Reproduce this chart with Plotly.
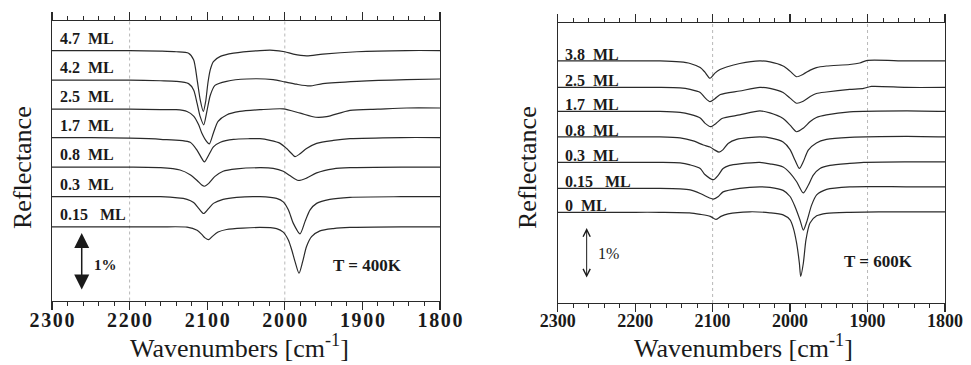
import plotly.graph_objects as go

# ---------------- data ----------------
TICKS = [2300, 2200, 2100, 2000, 1900, 1800]

# T = 400 K : coverage labels (top to bottom) and vertical offsets (%)
COV_400 = ["4.7", "4.2", "2.5", "1.7", "0.8", "0.3", "0.15"]
OFF_400 = [4.31, 3.80, 3.30, 2.81, 2.30, 1.79, 1.27]

W400_47 = [2300, 2250, 2200, 2160, 2140, 2124, 2117.5, 2113, 2109, 2105, 2102, 2099, 2096, 2092, 2083, 2066, 2032, 2015, 2000, 1989, 1972, 1951, 1907, 1843, 1800]
R400_47 = [0, 0, 0, -0.01, -0.02, -0.045, -0.16, -0.5, -0.85, -1.05, -0.88, -0.55, -0.33, -0.19, -0.1, -0.045, 0, 0.005, -0.02, -0.06, -0.09, -0.06, -0.02, 0, 0]

W400_42 = [2300, 2250, 2200, 2160, 2140, 2124, 2117.5, 2113, 2109, 2104.5, 2100.6, 2096, 2090, 2075, 2049, 2015, 2000, 1985, 1968, 1951, 1907, 1843, 1800]
R400_42 = [0, 0, 0, -0.01, -0.02, -0.06, -0.17, -0.4, -0.63, -0.77, -0.55, -0.26, -0.09, -0.02, 0.02, 0.01, -0.03, -0.07, -0.1, -0.06, -0.02, 0.01, 0.02]

W400_25 = [2300, 2250, 2200, 2160, 2140, 2126, 2117.5, 2111, 2107, 2100.6, 2097.3, 2092, 2086, 2075, 2058, 2032, 2002, 1980, 1960, 1946, 1916, 1880, 1843, 1800]
R400_25 = [0, 0, 0, -0.01, -0.01, -0.04, -0.12, -0.27, -0.41, -0.56, -0.6, -0.41, -0.21, -0.1, -0.04, -0.01, 0.005, -0.07, -0.14, -0.13, -0.02, 0, 0.02, 0.02]

W400_17 = [2300, 2250, 2200, 2160, 2122, 2113, 2107, 2103.6, 2098, 2092, 2083, 2066, 2045, 2032, 2019, 2006, 1997.6, 1991, 1986.8, 1980.4, 1972, 1959, 1937.5, 1916, 1850, 1800]
R400_17 = [0, 0, -0.01, -0.03, -0.08, -0.22, -0.36, -0.42, -0.3, -0.16, -0.08, -0.03, -0.02, -0.02, -0.05, -0.1, -0.19, -0.28, -0.33, -0.28, -0.19, -0.1, -0.05, -0.02, 0, 0]

W400_08 = [2300, 2250, 2200, 2160, 2135, 2122, 2113, 2107, 2103.6, 2098, 2090, 2079.5, 2062, 2032, 2015, 2002, 1993, 1982.6, 1972, 1959, 1937.5, 1916, 1850, 1800]
R400_08 = [0, 0, 0, -0.01, -0.05, -0.13, -0.23, -0.31, -0.33, -0.28, -0.16, -0.07, -0.03, -0.01, -0.02, -0.07, -0.15, -0.23, -0.19, -0.1, -0.03, -0.01, 0, 0]

W400_03 = [2300, 2250, 2200, 2160, 2126, 2117.5, 2111, 2104.6, 2098, 2092, 2079.5, 2062, 2032, 2010.6, 2002, 1995.3, 1989, 1980.4, 1974, 1967.6, 1959, 1942, 1916, 1850, 1800]
R400_03 = [0, 0, 0, 0, -0.045, -0.1, -0.2, -0.29, -0.2, -0.115, -0.045, -0.01, 0, -0.03, -0.09, -0.23, -0.46, -0.64, -0.43, -0.23, -0.115, -0.045, -0.01, 0, 0]

W400_015 = [2300, 2250, 2200, 2160, 2126, 2113, 2107, 2102.8, 2098, 2093, 2086, 2075, 2032, 2010.6, 2002, 1995.3, 1991, 1986.8, 1981.7, 1977, 1972, 1965.5, 1954.7, 1937.5, 1916, 1850, 1800]
R400_015 = [0, 0, 0, 0, -0.005, -0.06, -0.13, -0.19, -0.22, -0.16, -0.09, -0.045, -0.01, -0.03, -0.09, -0.23, -0.4, -0.6, -0.8, -0.6, -0.34, -0.17, -0.07, -0.03, -0.01, 0, 0]

# T = 600 K
COV_600 = ["3.8", "2.5", "1.7", "0.8", "0.3", "0.15", "0"]
OFF_600 = [4.75, 4.23, 3.76, 3.26, 2.76, 2.25, 1.78]

W600_38 = [2300, 2250, 2200, 2168, 2142, 2129, 2116, 2110, 2103.4, 2097, 2090.5, 2082, 2065, 2039, 2026, 2009, 2000, 1991.5, 1983, 1974, 1966, 1953, 1923, 1910, 1900, 1850, 1800]
R600_38 = [0, 0, 0, 0, -0.02, -0.05, -0.13, -0.22, -0.34, -0.24, -0.17, -0.12, -0.05, 0, -0.02, -0.1, -0.2, -0.31, -0.26, -0.18, -0.13, -0.1, -0.07, -0.04, 0.01, 0, 0]

W600_25 = [2300, 2250, 2200, 2168, 2142, 2129, 2116, 2110, 2103.4, 2097, 2090, 2065, 2039, 2026, 2009, 2000, 1991.5, 1983, 1974, 1966, 1953, 1923, 1905, 1895, 1850, 1800]
R600_25 = [0, 0, 0, 0, -0.01, -0.04, -0.1, -0.2, -0.28, -0.22, -0.14, -0.07, 0, -0.02, -0.1, -0.21, -0.31, -0.27, -0.18, -0.12, -0.09, -0.04, -0.02, 0.02, 0, 0]

W600_17 = [2300, 2250, 2200, 2168, 2142, 2129, 2116, 2110, 2102.7, 2095, 2088, 2065, 2039, 2026, 2009, 2000, 1991.5, 1983, 1974, 1966, 1953, 1923, 1850, 1800]
R600_17 = [0, 0, 0, 0, -0.02, -0.06, -0.13, -0.23, -0.30, -0.23, -0.14, -0.07, 0.01, -0.03, -0.14, -0.27, -0.40, -0.33, -0.2, -0.12, -0.07, -0.01, 0.01, 0]

W600_08 = [2300, 2250, 2200, 2168, 2142, 2125, 2112, 2103.4, 2097, 2091.7, 2086.5, 2080, 2069, 2039, 2026, 2009, 2000, 1993.6, 1988, 1983, 1976.5, 1966, 1953, 1923, 1850, 1800]
R600_08 = [0, 0, 0, 0, -0.02, -0.08, -0.16, -0.2, -0.26, -0.3, -0.25, -0.13, -0.05, 0, -0.02, -0.1, -0.25, -0.46, -0.62, -0.49, -0.26, -0.12, -0.05, -0.01, 0.01, 0]

W600_03 = [2300, 2250, 2200, 2168, 2142, 2129, 2116, 2110, 2099, 2092.6, 2086.5, 2078, 2065, 2039, 2026, 2009, 2000, 1991.5, 1983, 1976.5, 1970, 1961.4, 1948.5, 1923, 1905, 1850, 1800]
R600_03 = [0, 0, 0, 0, -0.01, -0.05, -0.12, -0.24, -0.34, -0.25, -0.12, -0.06, -0.03, 0, -0.03, -0.09, -0.21, -0.38, -0.6, -0.45, -0.25, -0.12, -0.06, -0.02, 0, 0.01, 0.01]

W600_015 = [2300, 2250, 2200, 2168, 2142, 2129, 2116, 2108, 2099, 2092.6, 2086.5, 2065, 2039, 2026, 2009, 2000, 1993.6, 1987.2, 1982.9, 1978.6, 1972.2, 1965.7, 1952.8, 1923, 1850, 1800]
R600_015 = [0, 0, 0, 0, -0.01, -0.03, -0.1, -0.16, -0.21, -0.16, -0.07, 0, 0.03, 0.02, -0.04, -0.16, -0.36, -0.62, -0.82, -0.66, -0.33, -0.13, -0.02, 0.03, 0.03, 0.03]

W600_0 = [2300, 2250, 2200, 2168, 2130, 2116, 2103, 2095.8, 2089.3, 2080, 2052, 2026, 2009, 2000, 1995.8, 1991.5, 1988, 1986.3, 1982.9, 1979.5, 1974.3, 1965.7, 1953, 1923, 1850, 1800]
R600_0 = [0, 0, 0, 0, -0.01, -0.04, -0.08, -0.14, -0.08, -0.03, 0.01, -0.01, -0.05, -0.15, -0.31, -0.61, -1.0, -1.26, -1.0, -0.54, -0.21, -0.07, -0.02, 0, 0.01, 0.01]

SPEC_400 = [(W400_47, R400_47), (W400_42, R400_42), (W400_25, R400_25), (W400_17, R400_17),
            (W400_08, R400_08), (W400_03, R400_03), (W400_015, R400_015)]
SPEC_600 = [(W600_38, R600_38), (W600_25, R600_25), (W600_17, R600_17), (W600_08, R600_08),
            (W600_03, R600_03), (W600_015, R600_015), (W600_0, R600_0)]

# ---------------- figure ----------------
SERIF = "Liberation Serif, Times New Roman, serif"
INK = "#1a1a1a"
LINE = "#2a2a2a"
FW, FH = 971, 365

fig = go.Figure()

for (w, r), off in zip(SPEC_400, OFF_400):
    fig.add_trace(go.Scatter(x=w, y=[off + v for v in r], mode="lines",
                             line=dict(color=LINE, width=1.2, shape="spline", smoothing=0.7),
                             xaxis="x", yaxis="y", showlegend=False, hoverinfo="skip"))
for (w, r), off in zip(SPEC_600, OFF_600):
    fig.add_trace(go.Scatter(x=w, y=[off + v for v in r], mode="lines",
                             line=dict(color=LINE, width=1.2, shape="spline", smoothing=0.7),
                             xaxis="x2", yaxis="y2", showlegend=False, hoverinfo="skip"))

def px_x(p):
    return p / FW

def px_y(p):
    return 1 - p / FH

HAIR = "\u200a"
common_x = dict(range=[2300, 1800], autorange=False, automargin=False, showline=True,
                linecolor=LINE, linewidth=1.2,
                mirror="ticks", ticks="outside", ticklen=8, tickwidth=1.2, tickcolor=LINE,
                tickmode="array", tickvals=TICKS, showgrid=False, zeroline=False,
                ticklabelstandoff=-7,
                minor=dict(tickmode="linear", tick0=1800, dtick=20, ticks="outside",
                           ticklen=4, tickwidth=1, tickcolor=LINE))
common_y = dict(showline=True, linecolor=LINE, linewidth=1.2, mirror=True, ticks="",
                automargin=False,
                showticklabels=False, showgrid=False, zeroline=False, autorange=False)

fig.update_layout(
    width=FW, height=FH, margin=dict(l=0, r=0, t=0, b=0, autoexpand=False),
    paper_bgcolor="white", plot_bgcolor="white",
    xaxis=dict(common_x, domain=[px_x(52), px_x(440)], anchor="y",
               ticktext=[HAIR.join(str(t)) for t in TICKS],
               tickfont=dict(family=SERIF, size=20, color=INK, weight="bold")),
    yaxis=dict(common_y, domain=[px_y(300.5), px_y(21)], anchor="x", range=[0, 4.82]),
    xaxis2=dict(common_x, domain=[px_x(557.7), px_x(945)], anchor="y2",
                ticktext=[str(t) for t in TICKS],
                tickfont=dict(family=SERIF, size=18, color=INK, weight="bold")),
    yaxis2=dict(common_y, domain=[px_y(303), px_y(22.7)], anchor="x2", range=[0, 5.50]),
)

# dotted reference lines
shapes = []
for xv in [2200, 2000]:
    shapes.append(dict(type="line", xref="x", yref="y domain", x0=xv, x1=xv, y0=0, y1=1,
                       line=dict(color="#b8b8b8", width=1, dash="dot"), layer="below"))
for xv in [2100, 1900]:
    shapes.append(dict(type="line", xref="x2", yref="y2 domain", x0=xv, x1=xv, y0=0, y1=1,
                       line=dict(color="#b8b8b8", width=1, dash="dot"), layer="below"))
fig.update_layout(shapes=shapes)

ann = []
NB = "\u00a0"
for cov, off in zip(COV_400, OFF_400):
    gap = NB * (3 if len(cov) > 3 else 2)
    ann.append(dict(x=2292, y=off + 0.21, xref="x", yref="y", text=f"<b>{cov}{gap}ML</b>",
                    showarrow=False, xanchor="left", yanchor="middle",
                    font=dict(family=SERIF, size=16, color=INK)))
for cov, off in zip(COV_600, OFF_600):
    gap = NB * (3 if len(cov) > 3 else 2)
    ann.append(dict(x=2293, y=off + 0.13, xref="x2", yref="y2", text=f"<b>{cov}{gap}ML</b>",
                    showarrow=False, xanchor="left", yanchor="middle",
                    font=dict(family=SERIF, size=16, color=INK)))

# 1 % scale arrows
ann.append(dict(x=2261.7, y=1.164, ax=2261.7, ay=0.164, xref="x", yref="y", axref="x", ayref="y",
                showarrow=True, arrowhead=2, startarrowhead=2, arrowside="end+start",
                arrowsize=2, startarrowsize=2, arrowwidth=1.5, arrowcolor=INK, text=""))
ann.append(dict(x=2262.6, y=1.47, ax=2262.6, ay=0.47, xref="x2", yref="y2", axref="x2", ayref="y2",
                showarrow=True, arrowhead=5, startarrowhead=5, arrowside="end+start",
                arrowsize=1.4, startarrowsize=1.4, arrowwidth=1, arrowcolor=INK, text=""))
ann.append(dict(x=2231.7, y=0.61, xref="x", yref="y", text="<b>1%</b>", showarrow=False,
                font=dict(family=SERIF, size=15, color=INK)))
ann.append(dict(x=2233.8, y=0.98, xref="x2", yref="y2", text="1%", showarrow=False,
                font=dict(family=SERIF, size=16, color=INK)))
ann.append(dict(x=1893.4, y=0.61, xref="x", yref="y", text="<b>T = 400K</b>", showarrow=False,
                font=dict(family=SERIF, size=17, color=INK)))
ann.append(dict(x=1886.5, y=0.81, xref="x2", yref="y2", text="<b>T = 600K</b>", showarrow=False,
                font=dict(family=SERIF, size=17, color=INK)))

# axis titles
for cx in [239, 743]:
    ann.append(dict(x=px_x(cx), y=px_y(346), xref="paper", yref="paper",
                    text="Wavenumbers [cm<sup>-1</sup>]", showarrow=False,
                    xanchor="center", yanchor="middle",
                    font=dict(family=SERIF, size=26, color=INK)))
for cx in [22, 527]:
    ann.append(dict(x=px_x(cx), y=px_y(168), xref="paper", yref="paper",
                    text="Reflectance", showarrow=False, textangle=-90,
                    xanchor="center", yanchor="middle",
                    font=dict(family=SERIF, size=26, color=INK)))

fig.update_layout(annotations=ann)

# remove the browser's default 8px page margin so the figure sits at the window origin
fig.write_html("out.html", config={"displayModeBar": False, "staticPlot": True},
               post_script="document.body.style.margin='0';")
